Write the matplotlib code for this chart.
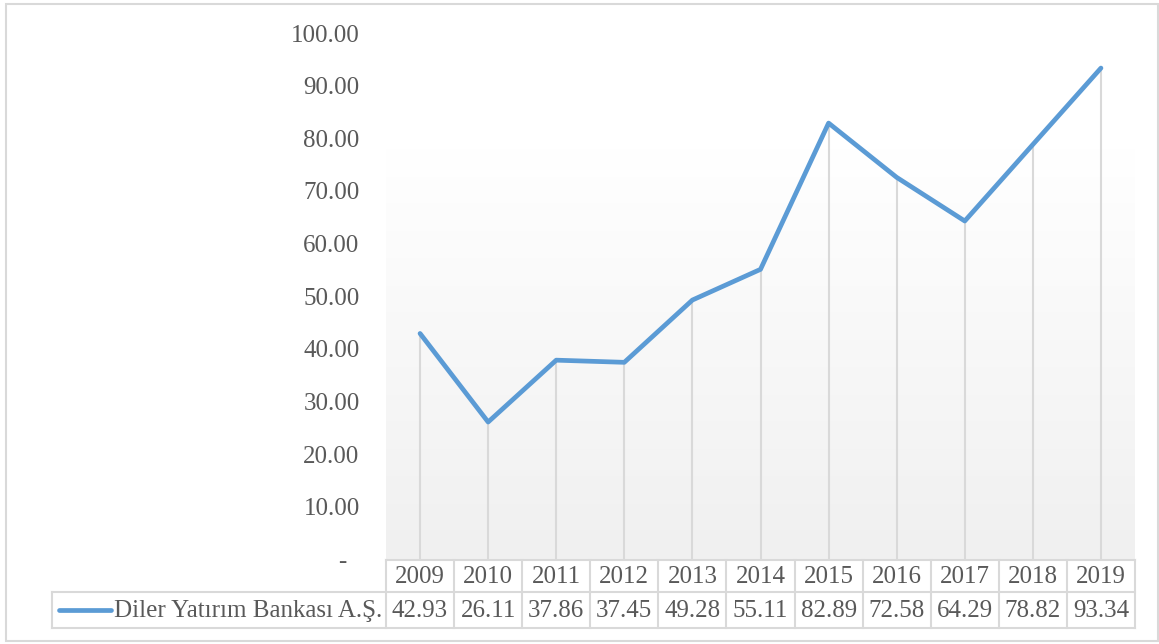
import numpy as np
import matplotlib.pyplot as plt
from matplotlib.colors import LinearSegmentedColormap
from matplotlib.lines import Line2D
from matplotlib.patches import Rectangle

# Datos
years = ['2009', '2010', '2011', '2012', '2013', '2014', '2015', '2016', '2017', '2018', '2019']
values = [42.93, 26.11, 37.86, 37.45, 49.28, 55.11, 82.89, 72.58, 64.29, 78.82, 93.34]
series_name = 'Diler Yatırım Bankası A.Ş.'
y_ticks = [0, 10, 20, 30, 40, 50, 60, 70, 80, 90, 100]

W, H = 1159, 644
LINE_COLOR = '#5b9bd5'
TEXT_COLOR = '#595959'
GRID_COLOR = '#d9d9d9'
FONT = 'Liberation Serif'

plt.rcParams['font.family'] = [FONT, 'DejaVu Serif']

fig = plt.figure(figsize=(W / 100, H / 100), dpi=100)


def fx(px):
    return px / W


def fy(py):
    return 1 - py / H


# Marco exterior
fig.patches.append(Rectangle((fx(6), fy(641)), fx(1158) - fx(6), fy(4) - fy(641),
                             transform=fig.transFigure, fill=False,
                             edgecolor=GRID_COLOR, linewidth=1.5))

ax_left, ax_right, ax_top, ax_bottom = 386, 1135, 33, 559.5
ax = fig.add_axes([fx(ax_left), fy(ax_bottom), fx(ax_right) - fx(ax_left), fy(ax_top) - fy(ax_bottom)])
ax.set_xlim(-0.5, len(years) - 0.5)
ax.set_ylim(0, 100)
for s in ax.spines.values():
    s.set_visible(False)

# Fondo degradado (blanco arriba, gris claro abajo)
grad_vals = np.linspace(0, 100, 300)
grad_top = 78
grad = np.clip((grad_top - grad_vals) / grad_top, 0, 1)[:, None]
cmap = LinearSegmentedColormap.from_list('g', ['#ffffff', '#f0f0f0'])
ax.imshow(grad, extent=[-0.5, len(years) - 0.5, 0, 100], origin='lower',
          aspect='auto', cmap=cmap, vmin=0, vmax=1, zorder=0)

x = np.arange(len(years))
ax.vlines(x, 0, values, color=GRID_COLOR, linewidth=1.5, zorder=1)
ax.plot(x, values, color=LINE_COLOR, linewidth=3.4, solid_joinstyle='round',
        solid_capstyle='round', zorder=3)

ax.set_yticks(y_ticks)
ax.set_yticklabels(['-  ' if v == 0 else f'{v:.2f}' for v in y_ticks])
ax.tick_params(axis='y', length=0, pad=19, labelsize=18, labelcolor=TEXT_COLOR)
ax.set_xticks([])

# Tabla de datos
row_top, row_mid, row_bot = 559.5, 592, 628
legend_left = 52
yt = lambda py: (ax_bottom - py) / (ax_bottom - ax_top)
lkw = dict(color=GRID_COLOR, linewidth=1.5, clip_on=False, zorder=2)
tr = ax.get_xaxis_transform()
for k in range(len(years) + 1):
    ax.add_line(Line2D([k - 0.5, k - 0.5], [yt(row_top), yt(row_bot)], transform=tr, **lkw))
ax.add_line(Line2D([-0.5, len(years) - 0.5], [yt(row_top), yt(row_top)], transform=tr, **lkw))
for py in (row_mid, row_bot):
    fig.add_artist(Line2D([fx(legend_left), fx(ax_right)], [fy(py), fy(py)],
                          transform=fig.transFigure, color=GRID_COLOR, linewidth=1.5))
fig.add_artist(Line2D([fx(legend_left), fx(legend_left)], [fy(row_mid), fy(row_bot)],
                      transform=fig.transFigure, color=GRID_COLOR, linewidth=1.5))

for i, (yr, v) in enumerate(zip(years, values)):
    ax.text(i, yt((row_top + row_mid) / 2 + 1), yr, transform=tr, ha='center', va='center',
            fontsize=18, color=TEXT_COLOR, clip_on=False)
    ax.text(i, yt((row_mid + row_bot) / 2 + 1), f'{v:.2f}', transform=tr, ha='center',
            va='center', fontsize=18, color=TEXT_COLOR, clip_on=False)

# Leyenda dentro de la tabla
ly = fy((row_mid + row_bot) / 2)
fig.add_artist(Line2D([fx(59), fx(111)], [ly, ly], transform=fig.transFigure,
                      color=LINE_COLOR, linewidth=3.4, solid_capstyle='round'))
fig.text(fx(382), fy((row_mid + row_bot) / 2 + 1), series_name, ha='right', va='center',
         fontsize=18, color=TEXT_COLOR)

fig.savefig('out.png', dpi=100)
